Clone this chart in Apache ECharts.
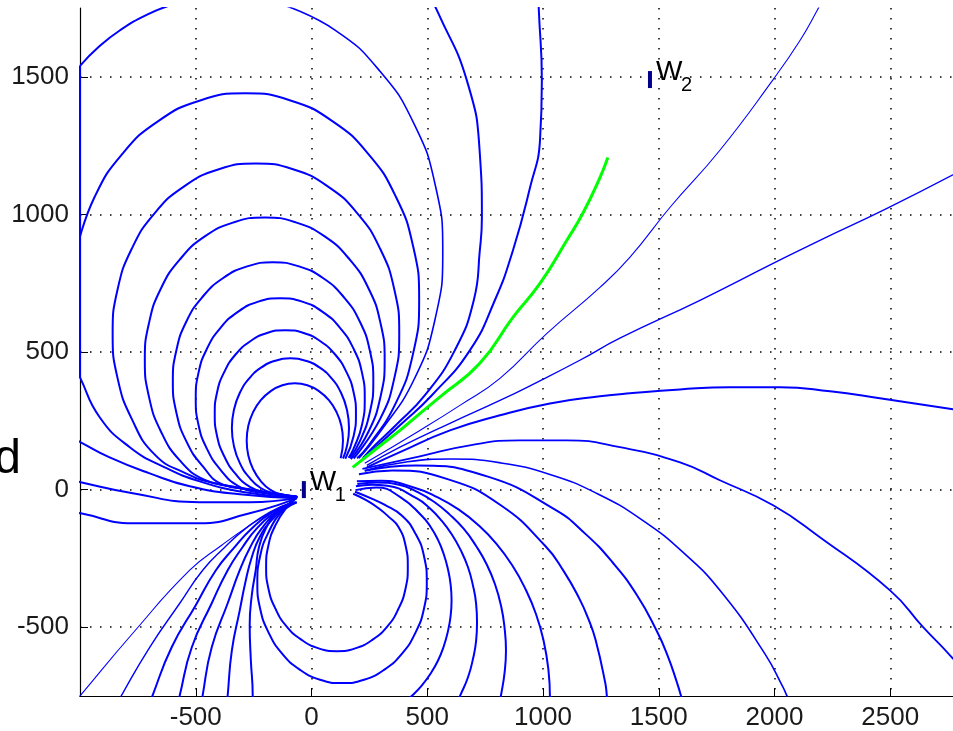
<!DOCTYPE html>
<html><head><meta charset="utf-8">
<script src="https://cdn.jsdelivr.net/npm/echarts/dist/echarts.min.js"></script>
<style>html,body{margin:0;padding:0;background:#fff}#c{width:953px;height:731px}</style>
</head><body><div id="c"></div>
<script>
// tick labels
const xTicks = [-500, 0, 500, 1000, 1500, 2000, 2500];
const yTicks = [-500, 0, 500, 1000, 1500];
// marker positions
const w1Pos = [-33, 0];
const w2Pos = [1462, 1490];
// field lines (data units)
const loopL8 = [[126,114],[136,178],[129,232],[108,282],[75,325],[32,358],[-18,379],[-72,386],[-126,379],[-176,358],[-219,325],[-252,282],[-273,232],[-280,178],[-273,124],[-252,74],[-219,31],[-176,-2],[-126,-18],[-64,-24]];
const loopL7 = [[136,113],[153,158],[162,224],[153,290],[128,351],[88,403],[36,443],[-25,468],[-91,477],[-157,468],[-218,443],[-270,403],[-310,351],[-335,290],[-344,224],[-335,158],[-310,97],[-270,45],[-218,5],[-157,-15],[-64,-26]];
const loopL6 = [[146,112],[182,195],[192,274],[182,353],[151,427],[103,490],[40,538],[-34,569],[-113,579],[-192,569],[-266,538],[-329,490],[-377,427],[-408,353],[-418,274],[-408,195],[-377,121],[-329,58],[-266,10],[-192,-12],[-64,-27]];
const loopL5 = [[160,115],[181,147],[218,235],[230,330],[218,425],[181,513],[123,588],[48,646],[-40,683],[-135,695],[-230,683],[-318,646],[-393,588],[-451,513],[-488,425],[-500,330],[-488,235],[-451,147],[-393,72],[-318,14],[-230,-10],[-64,-27]];
const loopL4 = [[166,115],[209,176],[252,281],[267,393],[252,505],[209,610],[140,699],[51,768],[-54,811],[-166,826],[-278,811],[-383,768],[-472,699],[-541,610],[-584,505],[-599,393],[-584,281],[-541,176],[-472,87],[-383,18],[-278,2],[-62,-27]];
const loopL3 = [[170,111],[247,212],[298,337],[316,471],[298,605],[247,730],[164,837],[57,920],[-68,971],[-202,989],[-336,971],[-461,920],[-568,837],[-651,730],[-702,605],[-720,471],[-702,337],[-651,212],[-568,105],[-461,35],[-336,10],[-60,-27]];
const loopL2 = [[182,113],[296,256],[358,406],[379,566],[358,726],[296,876],[198,1004],[70,1102],[-80,1164],[-240,1185],[-400,1164],[-550,1102],[-678,1004],[-776,876],[-838,726],[-859,566],[-838,406],[-776,256],[-678,128],[-550,62],[-400,20],[-60,-27]];
const loopL1 = [[197,114],[245,158],[364,314],[439,495],[465,689],[439,884],[364,1065],[245,1220],[90,1339],[-91,1414],[-286,1440],[-481,1414],[-662,1339],[-817,1220],[-936,1065],[-1011,884]];
const loopL1Tail = [[-1019,444],[-1000,408],[-915,263],[-785,154],[-634,81],[-483,30],[-288,-10],[-64,-31]];
const edgeClamp = [[-1000,1540],[-1000,408]];
const topArc = [[-524,1779],[-602,1762],[-710,1726],[-827,1669],[-921,1607],[-1000,1540]];
const loopL0 = [[205,114],[295,208],[443,400],[535,624],[567,865],[535,1105],[443,1329],[295,1521],[103,1669],[-122,1761]];
const lineB = [[222,114],[274,161],[364,234],[490,343],[619,506],[701,688],[727,869],[736,989],[727,1222],[671,1487],[546,1734],[511,1790]];
const lineC = [[230,114],[287,161],[382,234],[520,343],[684,506],[792,688],[870,869],[944,1098],[987,1269],[995,1487],[982,1741],[980,1790]];
const greenLine = [[178,81],[299,161],[382,215],[459,270],[554,336],[727,459],[870,626],[987,749],[1103,906],[1172,1004],[1246,1134],[1280,1207]];
const lineR1 = [[230,96],[468,215],[641,306],[814,404],[1017,568],[1246,735],[1375,844],[1548,1025],[1764,1233],[1994,1490],[2110,1632],[2184,1741],[2214,1790]];
const lineR2 = [[239,88],[382,154],[598,241],[814,324],[974,390],[1159,470],[1332,550],[1678,688],[1994,822],[2196,906],[2486,1022],[2800,1157]];
const lineR3 = [[239,81],[382,136],[598,215],[814,270],[1030,313],[1246,339],[1375,350],[1592,364],[1808,372],[2024,372],[2240,357],[2455,332],[2771,292],[2800,288]];
const lineR4 = [[220,75],[468,121],[684,161],[900,179],[1103,179],[1332,154],[1592,99],[1764,34],[1994,-57],[2196,-173],[2499,-366],[2642,-500],[2758,-602],[2801,-646]];
const lineR5 = [[230,69],[415,101],[600,111],[817,97],[1030,55],[1235,-15],[1429,-111],[1610,-232],[1772,-374],[1958,-596],[2036,-717],[2053,-748],[2070,-781]];
const lineR6 = [[230,68],[340,83],[451,88],[762,47],[1052,-73],[1182,-160],[1300,-264],[1404,-381],[1491,-513],[1539,-605],[1579,-702],[1596,-749],[1605,-782]];
const lineR7 = [[205,56],[349,69],[591,37],[816,-56],[1010,-205],[1090,-297],[1158,-398],[1196,-470],[1227,-546],[1269,-703],[1276,-751],[1280,-784]];
const lineR8 = [[196,30],[300,32],[445,7],[543,-27],[635,-72],[722,-130],[799,-197],[867,-275],[924,-361],[970,-453],[1003,-551],[1023,-652],[1030,-755],[1030,-790]];
const lineR9 = [[198,20],[280,26],[378,18],[456,-8],[529,-44],[596,-90],[658,-143],[711,-205],[757,-272],[793,-345],[819,-423],[834,-503],[840,-584],[834,-665],[819,-745],[813,-766]];
const lineR10 = [[192,12],[260,18],[328,14],[455,-32],[511,-68],[562,-113],[607,-164],[645,-221],[676,-282],[697,-347],[711,-414],[715,-482],[711,-550],[697,-617],[676,-682],[645,-743],[631,-766]];
const lineR11 = [[190,-2],[280,8],[385,-28],[476,-95],[514,-135],[546,-182],[571,-234],[589,-288],[601,-345],[605,-402],[601,-459],[589,-516],[571,-570],[546,-622],[514,-669],[476,-712],[433,-750],[411,-766]];
const loopR12 = [[188,-8],[260,-33],[315,-55],[391,-95],[449,-160],[486,-242],[498,-337],[486,-432],[449,-520],[391,-596],[315,-654],[227,-691],[132,-703],[37,-691],[-51,-654],[-127,-596],[-185,-520],[-222,-432],[-234,-337],[-222,-242],[-185,-154],[-127,-78],[-64,-28]];
const loopR13 = [[180,-15],[240,-40],[290,-68],[335,-100],[375,-135],[406,-202],[416,-281],[406,-360],[375,-434],[327,-498],[263,-546],[189,-577],[110,-587],[31,-577],[-43,-546],[-107,-498],[-155,-434],[-186,-360],[-196,-281],[-186,-202],[-155,-128],[-107,-64],[-63,-29]];
const lineD1 = [[-1023,-773],[-997,-747],[-772,-522],[-526,-293],[-388,-202],[-267,-130],[-159,-75],[-85,-46]];
const lineD2 = [[-841,-783],[-820,-747],[-699,-573],[-569,-413],[-470,-293],[-379,-213],[-284,-141],[-180,-82],[-81,-46]];
const lineD3 = [[-699,-783],[-686,-747],[-604,-573],[-500,-420],[-413,-293],[-336,-213],[-258,-141],[-167,-82],[-77,-46]];
const lineD4 = [[-578,-783],[-569,-747],[-517,-573],[-431,-413],[-362,-293],[-301,-213],[-236,-141],[-154,-82],[-72,-46]];
const lineD5 = [[-474,-783],[-470,-747],[-431,-573],[-362,-413],[-310,-293],[-267,-213],[-215,-141],[-146,-82],[-68,-46]];
const lineD6 = [[-366,-783],[-362,-747],[-344,-584],[-310,-439],[-284,-330],[-258,-246],[-224,-173],[-172,-111],[-111,-68],[-64,-46]];
const lineD7 = [[-254,-783],[-254,-747],[-262,-620],[-267,-493],[-258,-384],[-241,-293],[-228,-213],[-197,-141],[-146,-82],[-64,-46]];
const edge442 = [[-1023,183],[-997,172],[-872,117],[-699,59],[-526,12],[-310,-17],[-64,-31]];
const edge482 = [[-1023,34],[-997,27],[-772,-13],[-483,-46],[-267,-46],[-64,-31]];
const edge513 = [[-1023,-82],[-997,-86],[-772,-122],[-483,-122],[-267,-86],[-124,-50],[-64,-31]];

const blueLines = [
  [loopL8,2],[loopL7,2],[loopL6,2],[loopL5,2],[loopL4,2],[loopL3,2],[loopL2,2],[loopL1,2],[loopL1Tail,2],
  [topArc,2],[loopL0,1.6],[lineB,2],[lineC,2],
  [lineR1,1.1],[lineR2,1.4],[lineR3,2],[lineR4,1.8],[lineR5,1.6],[lineR6,2],[lineR7,2],[lineR8,2],[lineR9,2],[lineR10,2],[lineR11,2],
  [loopR12,2],[loopR13,2],
  [lineD1,1.1],[lineD2,1.4],[lineD3,2],[lineD4,2],[lineD5,2],[lineD6,2],[lineD7,2],
  [edge442,2],[edge482,2],[edge513,2]
];

const chart = echarts.init(document.getElementById('c'), null, {renderer:'canvas'});
const labelFont = '"Liberation Sans", Arial, sans-serif';
const plainNum = v => String(v);
const series = blueLines.map(([d,w]) => ({
  type:'line', data:d, smooth:0.5, symbol:'none', silent:true,
  lineStyle:{color:'#0000ff', width:w}, z:3
}));
series.push({type:'line', data:edgeClamp, symbol:'none', silent:true, clip:false, lineStyle:{color:'#0000ff', width:2}, z:4});
series.push({type:'line', data:greenLine, smooth:0.5, symbol:'none', silent:true, lineStyle:{color:'#00ff00', width:3}, z:5});
series.push({type:'scatter', data:[w1Pos, w2Pos], symbol:'rect', symbolSize:[4,17], itemStyle:{color:'#00008b', opacity:1}, silent:true, z:6});

const gridLine = {show:true, lineStyle:{color:'#000', type:[1.5,8.5], width:1.5}};
chart.setOption({
  animation:false,
  backgroundColor:'#ffffff',
  grid:{left:80, right:0, top:8, bottom:35, containLabel:false},
  xAxis:{
    type:'value', min:-1000, max:2771,
    axisLine:{show:true, onZero:false, lineStyle:{color:'#000', width:1.2}},
    axisTick:{show:true, inside:true, length:8, customValues:xTicks, lineStyle:{color:'#000'}},
    axisLabel:{customValues:xTicks, formatter:plainNum, fontSize:26, fontFamily:labelFont, color:'#1a1a1a', margin:9},
    splitLine:gridLine
  },
  yAxis:{
    type:'value', min:-750, max:1750,
    axisLine:{show:true, onZero:false, lineStyle:{color:'#000', width:1.2}},
    axisTick:{show:true, inside:true, length:8, customValues:yTicks, lineStyle:{color:'#000'}},
    axisLabel:{customValues:yTicks, formatter:plainNum, fontSize:26, fontFamily:labelFont, color:'#1a1a1a', margin:11},
    splitLine:gridLine
  },
  series:series
});

const p1 = chart.convertToPixel({gridIndex:0}, w1Pos);
const p2 = chart.convertToPixel({gridIndex:0}, w2Pos);
function wLabel(p, sub){
  return [
    {type:'text', x:p[0]+6, y:p[1]-7, z:10, style:{text:'W', font:'28px "Liberation Sans", Arial, sans-serif', fill:'#000', align:'left', verticalAlign:'middle'}},
    {type:'text', x:p[0]+31, y:p[1]+6, z:10, style:{text:sub, font:'20px "Liberation Sans", Arial, sans-serif', fill:'#000', align:'left', verticalAlign:'middle'}}
  ];
}
chart.setOption({graphic:[
  ...wLabel(p1,'1'), ...wLabel(p2,'2'),
  {type:'text', x:21, y:460, z:10, style:{text:'d', font:'48px "Liberation Sans", Arial, sans-serif', fill:'#000', align:'right', verticalAlign:'middle'}}
]});
</script>
</body></html>
